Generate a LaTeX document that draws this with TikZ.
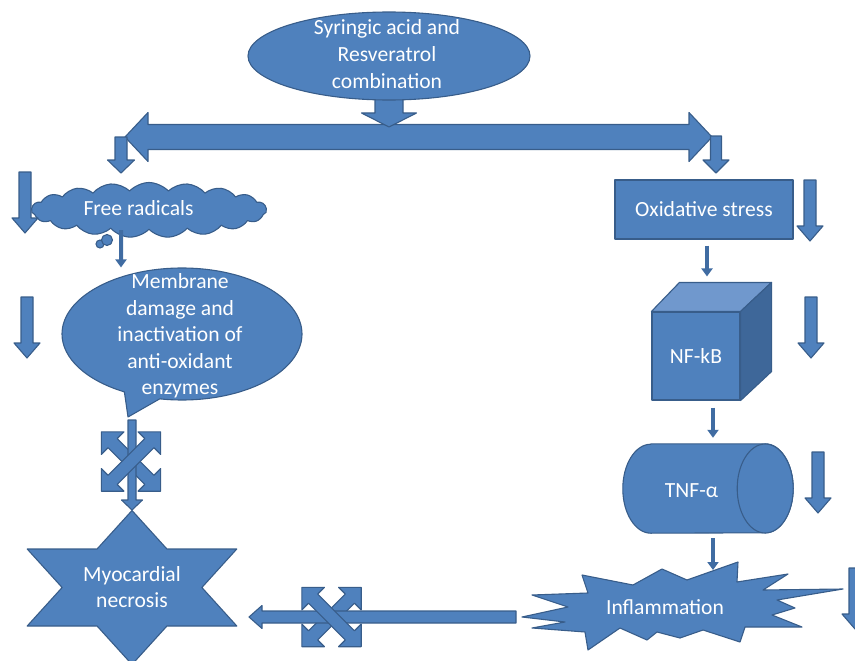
\documentclass[tikz,border=0pt]{standalone}
\usepackage{fontspec}
\setmainfont{Carlito}
\usetikzlibrary{shapes.geometric,shapes.symbols,shapes.callouts,arrows.meta}

\definecolor{boxblue}{RGB}{79,129,189}
\definecolor{rimblue}{RGB}{56,93,138}
\definecolor{topblue}{RGB}{112,152,205}
\definecolor{sideblue}{RGB}{62,103,153}
\definecolor{flowblue}{RGB}{64,108,162}

\tikzstyle{blueshape} = [fill=boxblue, draw=rimblue, line width=1.1pt, line join=round]
\tikzstyle{txt} = [text=white, font=\fontsize{21.6}{26.5}\selectfont, align=center, inner sep=0pt]
\tikzstyle{flow} = [draw=flowblue, line width=4pt, -{Triangle[width=11pt,length=8pt]}]

% block arrow: x, y, angle, length, shaft half width, head half width, head length
\newcommand{\blockarrow}[7]{%
  \begin{scope}[shift={(#1,#2)}, rotate=#3]
    \draw[blueshape] (0,-#5) -- ({#4-#7},-#5) -- ({#4-#7},-#6) -- (#4,0)
      -- ({#4-#7},#6) -- ({#4-#7},#5) -- (0,#5) -- cycle;
  \end{scope}}
% same with a head at both ends, centred on x, y
\newcommand{\twowayarrow}[7]{%
  \begin{scope}[shift={(#1,#2)}, rotate=#3]
    \draw[blueshape] ({-#4/2},0) -- ({-#4/2+#7},-#6) -- ({-#4/2+#7},-#5)
      -- ({#4/2-#7},-#5) -- ({#4/2-#7},-#6) -- ({#4/2},0) -- ({#4/2-#7},#6)
      -- ({#4/2-#7},#5) -- ({-#4/2+#7},#5) -- ({-#4/2+#7},#6) -- cycle;
  \end{scope}}

\begin{document}
\begin{tikzpicture}[x=1pt, y=-1pt]
    \useasboundingbox (0,0) rectangle (855,661);

    % top
    \twowayarrow{418.5}{137}{0}{587}{12.5}{24.5}{23}
    \blockarrow{389}{95}{-90}{32}{14}{27.5}{14}
    \node[blueshape, ellipse, minimum width=282pt, minimum height=88pt, inner sep=0pt] (combo) at (389,56) {};
    \node[txt, font=\fontsize{21.6}{27}\selectfont] (combotext) at (387,54) {Syringic acid and\\Resveratrol\\combination};
    \blockarrow{121}{137}{-90}{36}{6}{13.5}{13}
    \blockarrow{716}{136}{-90}{37}{5.5}{13}{13}

    % left branch
    \node[blueshape, cloud, cloud puffs=19, cloud puff arc=95, aspect=4.27,
          minimum width=235pt, minimum height=55pt, inner sep=0pt] (cloud) at (149,210) {};
    \node[txt] (cloudtext) at (138.5,208) {Free radicals};
    \draw[blueshape] (100,244) circle (4);
    \draw[blueshape] (107,240) circle (5.5);
    \node[blueshape, ellipse callout, minimum width=240pt, minimum height=132pt, inner sep=0pt,
          callout absolute pointer={(128,417)}, callout pointer arc=18] (bubble) at (182,334) {};
    \node[txt] (bubbletext) at (180,336) {Membrane\\damage and\\inactivation of\\anti-oxidant\\enzymes};
    \draw[flow] ([xshift=-28pt]cloud.south) -- ([xshift=-61pt]bubble.north);

    \twowayarrow{131}{461.5}{-45}{84}{6.5}{16}{16}
    \blockarrow{132}{420}{-90}{90}{4}{10.5}{10}
    \twowayarrow{131}{461.5}{45}{84}{6.5}{16}{16}

    \draw[blueshape] (132,510.5) \foreach \k in {1,...,11} {
        -- ({132+(1-0.42265*mod(\k,2))*121*cos(90+30*\k)}, {587.5-(1-0.42265*mod(\k,2))*77*sin(90+30*\k)}) } -- cycle;
    \node[txt] (necrosis) at (132,587) {Myocardial\\necrosis};

    % right branch
    \node[blueshape, txt, minimum width=178pt, minimum height=59pt] (ox) at (704,209.5) {Oxidative stress};
    \node[blueshape, txt, minimum width=88pt, minimum height=88pt] (nfkb) at (696,356) {NF-kB};
    \draw[blueshape, fill=topblue] (nfkb.north west) -- ++(28,-29) -- ([shift={(31,-29)}]nfkb.north east) -- (nfkb.north east) -- cycle;
    \draw[blueshape, fill=sideblue] (nfkb.north east) -- ++(31,-29) -- ([shift={(31,-29)}]nfkb.south east) -- (nfkb.south east) -- cycle;
    \node[minimum width=170pt, minimum height=89pt, inner sep=0pt] (tnf) at (708,488.5) {};
    \draw[blueshape] ([xshift=28pt]tnf.north west) -- ([xshift=-28pt]tnf.north east) arc (-90:90:28 and 44.5)
        -- ([xshift=28pt]tnf.south west) arc (90:270:28 and 44.5) -- cycle;
    \draw[blueshape] ([xshift=-28pt]tnf.east) ellipse (28 and 44.5);
    \node[txt] (tnftext) at (691.5,491) {TNF-α};

    \draw[blueshape] (522,617) -- (568,607) -- (532,595) -- (588,593) -- (582,575) -- (633,585)
        -- (662,569) -- (687,580) -- (738,562) -- (737,582) -- (788,574) -- (763,590) -- (843,589)
        -- (777,600) -- (795,608) -- (772,615) -- (802,627) -- (745,627) -- (740,642) -- (703,630)
        -- (680,638) -- (657,632) -- (647,640) -- (620,628) -- (588,650) -- (585,632) -- (532,628)
        -- (565,622) -- cycle;
    \node[txt] (infl) at (665,607) {Inflammation};
    \coordinate (inflTop) at (713,570);

    \draw[flow] ([xshift=3pt,yshift=-6pt]ox.south) -- ([xshift=11pt,yshift=35pt]nfkb.north);
    \draw[flow] ([xshift=17pt,yshift=-7pt]nfkb.south) -- ([xshift=5pt,yshift=6pt]tnf.north);
    \draw[flow] ([xshift=5pt,yshift=-5pt]tnf.south) -- (inflTop);

    % blocked path back to the necrosis
    \twowayarrow{331.5}{617}{45}{84}{6.5}{16}{16}
    \blockarrow{516}{617}{180}{267}{6}{11.5}{13}
    \twowayarrow{331.5}{617}{-45}{84}{6.5}{16}{16}

    % side arrows
    \foreach \x/\ya in {25/172, 27/297, 810/180, 811/297, 818/452, 855/568}
        \blockarrow{\x}{\ya}{-90}{61}{6}{13}{15};
\end{tikzpicture}
\end{document}
